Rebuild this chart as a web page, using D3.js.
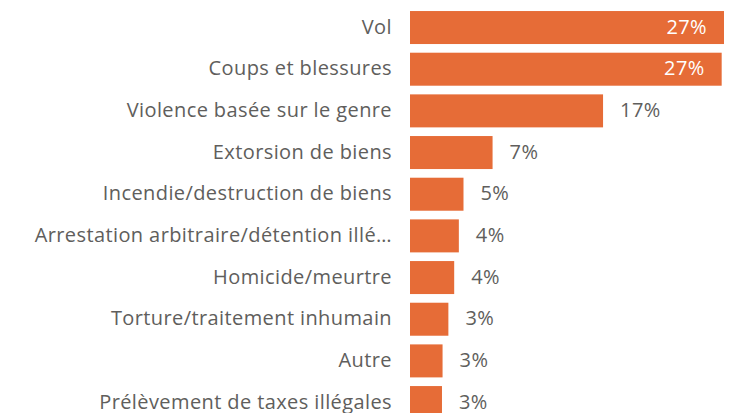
<!DOCTYPE html>
<html>
<head>
<meta charset="utf-8">
<script src="https://cdn.jsdelivr.net/npm/d3@7"></script>
<style>
  body { margin: 0; background: #fff; }
  text { font-family: "Open Sans", sans-serif; font-size: 20px; letter-spacing: 0.4px; }
</style>
</head>
<body>
<svg width="735" height="413"></svg>
<script>
const categories = ["Vol", "Coups et blessures", "Violence basée sur le genre", "Extorsion de biens",
  "Incendie/destruction de biens", "Arrestation arbitraire/détention illé…", "Homicide/meurtre",
  "Torture/traitement inhumain", "Autre", "Prélèvement de taxes illégales"];
const values = [27.0, 26.8, 16.6, 7.1, 4.6, 4.2, 3.8, 3.3, 2.8, 2.75];

const svg = d3.select("svg");
const width = +svg.attr("width");
const data = categories.map((c, i) => ({ cat: c, value: values[i] }));

const x = d3.scaleLinear().domain([0, 27]).range([410, 724]);
const y = d3.scaleBand().domain(categories).range([6.7, 423.4]).paddingInner(0.208).paddingOuter(0.104);
const fmt = v => Math.round(v) + "%";

// labels on the left
svg.append("g").selectAll("text").data(data).enter().append("text")
  .attr("x", 392)
  .attr("y", d => y(d.cat) + y.bandwidth() / 2)
  .attr("dy", "0.3em")
  .attr("text-anchor", "end")
  .attr("fill", "#605E5C")
  .text(d => d.cat);

// bars
svg.append("g").selectAll("rect").data(data).enter().append("rect")
  .attr("x", x(0))
  .attr("y", d => y(d.cat))
  .attr("width", d => x(d.value) - x(0))
  .attr("height", y.bandwidth())
  .attr("fill", "#E66C37");

// value labels, inside when they would not fit outside
const inside = d => x(d.value) + 17 + 45 > width;
svg.append("g").selectAll("text").data(data).enter().append("text")
  .attr("x", d => inside(d) ? x(d.value) - 17 : x(d.value) + 17)
  .attr("y", d => y(d.cat) + y.bandwidth() / 2)
  .attr("dy", "0.3em")
  .attr("text-anchor", d => inside(d) ? "end" : "start")
  .attr("fill", d => inside(d) ? "#fff" : "#605E5C")
  .text(d => fmt(d.value));
</script>
</body>
</html>
